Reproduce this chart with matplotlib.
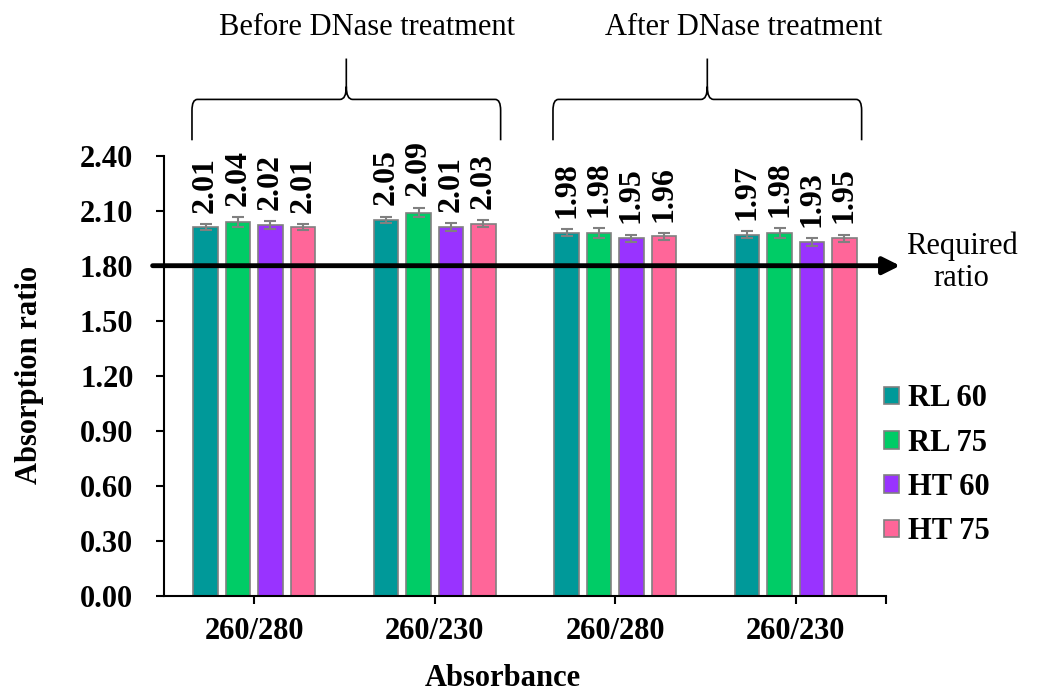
import matplotlib.pyplot as plt
import numpy as np
from matplotlib.patches import Patch, PathPatch
from matplotlib.path import Path

# Data
categories = ['260/280', '260/230', '260/280', '260/230']
series = ['RL 60', 'RL 75', 'HT 60', 'HT 75']
rl60 = [2.01, 2.05, 1.98, 1.97]
rl75 = [2.04, 2.09, 1.98, 1.98]
ht60 = [2.02, 2.01, 1.95, 1.93]
ht75 = [2.01, 2.03, 1.96, 1.95]
rl60_err = [0.016, 0.018, 0.018, 0.020]
rl75_err = [0.027, 0.027, 0.027, 0.027]
ht60_err = [0.022, 0.022, 0.020, 0.022]
ht75_err = [0.016, 0.018, 0.020, 0.020]
required_ratio = 1.80
groups = ['Before DNase treatment', 'After DNase treatment']

values = [rl60, rl75, ht60, ht75]
errors = [rl60_err, rl75_err, ht60_err, ht75_err]
colors = ['#009999', '#00CC66', '#9933FF', '#FF6699']

plt.rcParams['font.family'] = ['Liberation Serif', 'DejaVu Serif']

fig = plt.figure(figsize=(10.37, 6.98), dpi=100)
ax = fig.add_axes([164 / 1037, 1 - 595.7 / 698, 722 / 1037, 440 / 698])

x = np.arange(len(categories))
pitch = 0.18
width = 0.136
for i, (vals, errs, c) in enumerate(zip(values, errors, colors)):
    pos = x + (i - 1.5) * pitch
    ax.bar(pos, vals, width, color=c, edgecolor='#808080', linewidth=1.2,
           yerr=errs, ecolor='#808080',
           error_kw=dict(elinewidth=1.5, capsize=4, capthick=1.5), zorder=2)
    for p, v, e in zip(pos, vals, errs):
        ax.annotate(f'{v:.2f}', (p, v + e), xytext=(0, 8), textcoords='offset points',
                    rotation=90, ha='center', va='bottom', fontsize=23, fontweight='bold')

# Required ratio arrow
ax.annotate('', xy=(3.578, required_ratio), xytext=(-0.563, required_ratio),
            arrowprops=dict(arrowstyle='-|>,head_length=0.6,head_width=0.3', mutation_scale=17,
                            lw=3.5, color='black', shrinkA=0, shrinkB=0),
            annotation_clip=False, zorder=5)
ax.text(3.92, 1.82, 'Required\nratio', ha='center', va='center', fontsize=22, linespacing=1.15)

# Braces over the two treatment groups
def brace(xc, half, y_bot, y_mid, y_top):
    rx, ry = 0.03, 0.06
    sx, sy = 0.035, 0.07
    x0, x1 = xc - half, xc + half
    verts = [(x0, y_bot), (x0, y_mid - ry), (x0, y_mid), (x0 + rx, y_mid),
             (xc - sx, y_mid), (xc, y_mid), (xc, y_mid + sy), (xc, y_top),
             (xc, y_mid + sy), (xc, y_mid), (xc + sx, y_mid),
             (x1 - rx, y_mid), (x1, y_mid), (x1, y_mid - ry), (x1, y_bot)]
    codes = [Path.MOVETO, Path.LINETO, Path.CURVE3, Path.CURVE3,
             Path.LINETO, Path.CURVE3, Path.CURVE3, Path.LINETO,
             Path.MOVETO, Path.CURVE3, Path.CURVE3,
             Path.LINETO, Path.CURVE3, Path.CURVE3, Path.LINETO]
    ax.add_patch(PathPatch(Path(verts, codes), fill=False, lw=1.2, color='black', clip_on=False))

brace(0.51, 0.855, 2.484, 2.707, 2.93)
brace(2.51, 0.855, 2.484, 2.707, 2.93)
ax.text(0.625, 3.057, groups[0], ha='center', va='baseline', fontsize=22)
ax.text(2.71, 3.057, groups[1], ha='center', va='baseline', fontsize=22)

# Axes styling
ax.set_xlim(-0.5, 3.5)
ax.set_ylim(0, 2.4)
ax.set_yticks(np.arange(0, 2.41, 0.3))
ax.set_yticklabels([f'{t:.2f}' for t in np.arange(0, 2.41, 0.3)], fontsize=22, fontweight='bold')
ax.set_xticks(x)
ax.set_xticklabels(categories, fontsize=22, fontweight='bold')
ax.set_xticks([3.5], minor=True)
ax.tick_params(axis='x', which='both', length=6, width=1.5, pad=9)
ax.tick_params(axis='y', length=6, width=1.5, pad=16)
for s in ['top', 'right']:
    ax.spines[s].set_visible(False)
for s in ['left', 'bottom']:
    ax.spines[s].set_linewidth(1.5)

fig.text(503 / 1037, 1 - 678 / 698, 'Absorbance', ha='center', va='center',
         fontsize=22, fontweight='bold')
fig.text(30 / 1037, 1 - 375 / 698, 'Absorption ratio', ha='center', va='center',
         rotation=90, fontsize=22, fontweight='bold')

handles = [Patch(facecolor=c, edgecolor='#808080', linewidth=1.2) for c in colors]
fig.legend(handles, series, loc='upper left', bbox_to_anchor=(884 / 1037, 1 - 384.5 / 698),
           frameon=False, prop=dict(family='Liberation Serif', weight='bold', size=22),
           handlelength=0.5, handleheight=0.5, handletextpad=0.3, labelspacing=0.5,
           borderpad=0, borderaxespad=0)

fig.savefig('out.png', dpi=100)
plt.close()
